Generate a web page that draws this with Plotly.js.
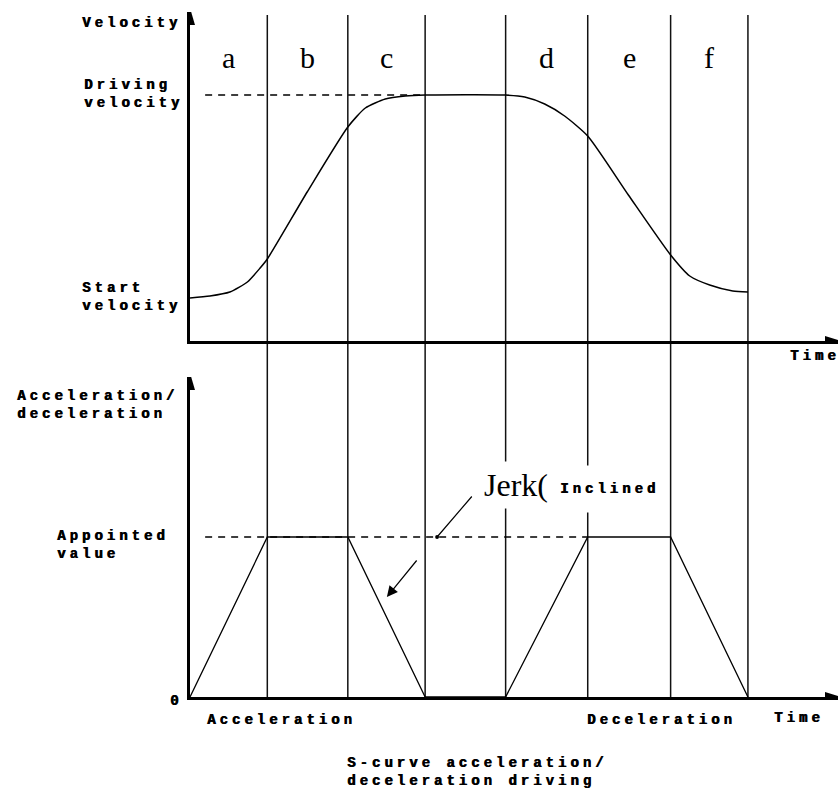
<!DOCTYPE html>
<html>
<head>
<meta charset="utf-8">
<script src="https://cdn.plot.ly/plotly-3.0.1.min.js"></script>
<style>html,body{margin:0;padding:0;background:#fff}</style>
</head>
<body>
<div id="chart" style="width:840px;height:792px"></div>
<script>
// phase boundaries on the time axis (a..f, constant speed between c and d)
const phaseEdges = [0, 0.97, 1.98, 2.95, 3.96, 4.99, 6.03, 7.0];
const phaseLetters = ["a", "b", "c", "", "d", "e", "f"];

// velocity curve (upper panel)
const timeV = [0, 0.25, 0.5, 0.72, 0.88, 0.97, 1.47, 1.98, 2.2, 2.45, 2.7, 2.95,
  3.96, 4.2, 4.45, 4.7, 4.99, 5.5, 6.03, 6.27, 6.52, 6.81, 7.0];
const velocity = [43, 45, 49, 59, 73, 82, 149, 214, 233, 242, 245, 246,
  246, 244, 237, 225, 205, 146, 86, 65, 56, 50, 49];
const startVelocity = 43;
const drivingVelocity = 246;

// acceleration / deceleration (lower panel)
const timeA = [0, 0.97, 1.98, 2.95, 3.96, 4.99, 6.03, 7.0];
const accel = [0, 160, 160, 0, 0, 160, 160, 0];
const appointedValue = 160;

const W = 840, H = 792;
const mono = "Liberation Mono";
const serif = "Liberation Serif";
const xMax = 8.13;

function sp(t) {
  return '<span style="letter-spacing:4px">' + t + '</span>';
}
function monoLabel(text, px, opts) {
  return Object.assign({
    text: text.split("<br>").map(sp).join("<br>"),
    xref: "paper", x: px / W, xanchor: "left", yanchor: "middle",
    showarrow: false, align: "left",
    font: { family: mono, size: 14, weight: "bold", color: "#000",
      shadow: "0.7px 0 0 #000" }
  }, opts);
}

const traces = [
  { x: timeV, y: velocity, xaxis: "x", yaxis: "y", mode: "lines",
    line: { color: "#000", width: 1.5, shape: "spline", smoothing: 0.6 } },
  { x: [0.19, phaseEdges[3]], y: [drivingVelocity, drivingVelocity], xaxis: "x", yaxis: "y",
    mode: "lines", line: { color: "#000", width: 1.3, dash: "7px,6px" } },
  { x: [0.19, phaseEdges[5]], y: [appointedValue, appointedValue], xaxis: "x2", yaxis: "y2",
    mode: "lines", line: { color: "#000", width: 1.3, dash: "7px,6px" } },
  { x: timeA, y: accel, xaxis: "x2", yaxis: "y2", mode: "lines",
    line: { color: "#000", width: 1.3 } }
];

const axisBase = {
  showline: true, linecolor: "#000", linewidth: 3, showgrid: false,
  zeroline: false, showticklabels: false, ticks: "", fixedrange: true
};

const shapes = [];
phaseEdges.slice(1).forEach(t => {
  shapes.push({ type: "line", xref: "x", yref: "paper", x0: t, x1: t,
    y0: 1 - 697 / H, y1: 1 - 15 / H, layer: "below",
    line: { color: "#111", width: 1.5 } });
});
// axis arrowheads
function upArrow(xr, yr, ytop) {
  return { type: "path", xref: xr, yref: yr, xsizemode: "pixel", ysizemode: "pixel",
    xanchor: 0, yanchor: ytop, path: "M0,4 L-5,-13 L5,-13 Z",
    fillcolor: "#000", line: { width: 0 }, layer: "above" };
}
function rightArrow(xr, yr) {
  return { type: "path", xref: xr, yref: yr, xsizemode: "pixel", ysizemode: "pixel",
    xanchor: xMax, yanchor: 0, path: "M3,0 L-13,5 L-13,-5 Z",
    fillcolor: "#000", line: { width: 0 }, layer: "above" };
}
shapes.push(upArrow("x", "y", 329), upArrow("x2", "y2", 320),
  rightArrow("x", "y"), rightArrow("x2", "y2"));

const annotations = [];
phaseLetters.forEach((s, i) => {
  if (!s) return;
  annotations.push({ text: s, xref: "x", yref: "y",
    x: (phaseEdges[i] + phaseEdges[i + 1]) / 2, y: 283, showarrow: false,
    font: { family: serif, size: 30, color: "#000" } });
});

annotations.push(
  monoLabel("Velocity", 80, { yref: "y", y: 318 }),
  monoLabel("Driving<br>velocity", 82, { yref: "y", y: drivingVelocity, yshift: 1 }),
  monoLabel("Start<br>velocity", 80, { yref: "y", y: startVelocity, yshift: 1 }),
  monoLabel("Time", 788, { yref: "y", y: 0, yshift: -15 }),
  monoLabel("Acceleration/<br>deceleration", 15, { yref: "y2", y: 292 }),
  monoLabel("Appointed<br>value", 55, { yref: "y2", y: appointedValue, yshift: -8 }),
  monoLabel("0", 168, { yref: "y2", y: 0, yshift: -4 }),
  monoLabel("Acceleration", 205, { yref: "y2", y: 0, yshift: -23 }),
  monoLabel("Deceleration", 585, { yref: "y2", y: 0, yshift: -23 }),
  monoLabel("Time", 772, { yref: "y2", y: 0, yshift: -21 }),
  monoLabel("S-curve acceleration/<br>deceleration driving", 345, { yref: "paper", y: 1 - 772 / H })
);

// Jerk callout
annotations.push(
  { text: "Jerk(", xref: "paper", yref: "paper", x: 482 / W, y: 1 - 485 / H,
    xanchor: "left", yanchor: "middle", showarrow: false, bgcolor: "#fff",
    height: 44, borderpad: 1, font: { family: serif, size: 32, color: "#000" } },
  monoLabel("Inclined", 558, { yref: "paper", y: 1 - 489 / H, bgcolor: "#fff",
    height: 44, borderpad: 1 }),
  { text: "", xref: "x2", yref: "y2", x: 3.10, y: appointedValue, ax: 36, ay: -42,
    showarrow: true, arrowhead: 6, arrowsize: 0.8, arrowwidth: 1.2, arrowcolor: "#000" },
  { text: "", xref: "x2", yref: "y2", x: 2.47, y: 100, ax: 31, ay: -38,
    showarrow: true, arrowhead: 2, arrowsize: 1.8, arrowwidth: 1.2, arrowcolor: "#000" }
);

const layout = {
  width: W, height: H, showlegend: false,
  margin: { l: 0, r: 0, t: 0, b: 0 },
  paper_bgcolor: "#fff", plot_bgcolor: "rgba(0,0,0,0)",
  xaxis: Object.assign({}, axisBase, { domain: [190 / W, 838 / W], range: [0, xMax], anchor: "y" }),
  yaxis: Object.assign({}, axisBase, { domain: [1 - 341 / H, 1 - 12 / H], range: [0, 329], anchor: "x" }),
  xaxis2: Object.assign({}, axisBase, { domain: [190 / W, 838 / W], range: [0, xMax], anchor: "y2" }),
  yaxis2: Object.assign({}, axisBase, { domain: [1 - 697 / H, 1 - 377 / H], range: [0, 320], anchor: "x2" }),
  shapes: shapes,
  annotations: annotations
};

Plotly.newPlot("chart", traces, layout, { staticPlot: true });
</script>
</body>
</html>
